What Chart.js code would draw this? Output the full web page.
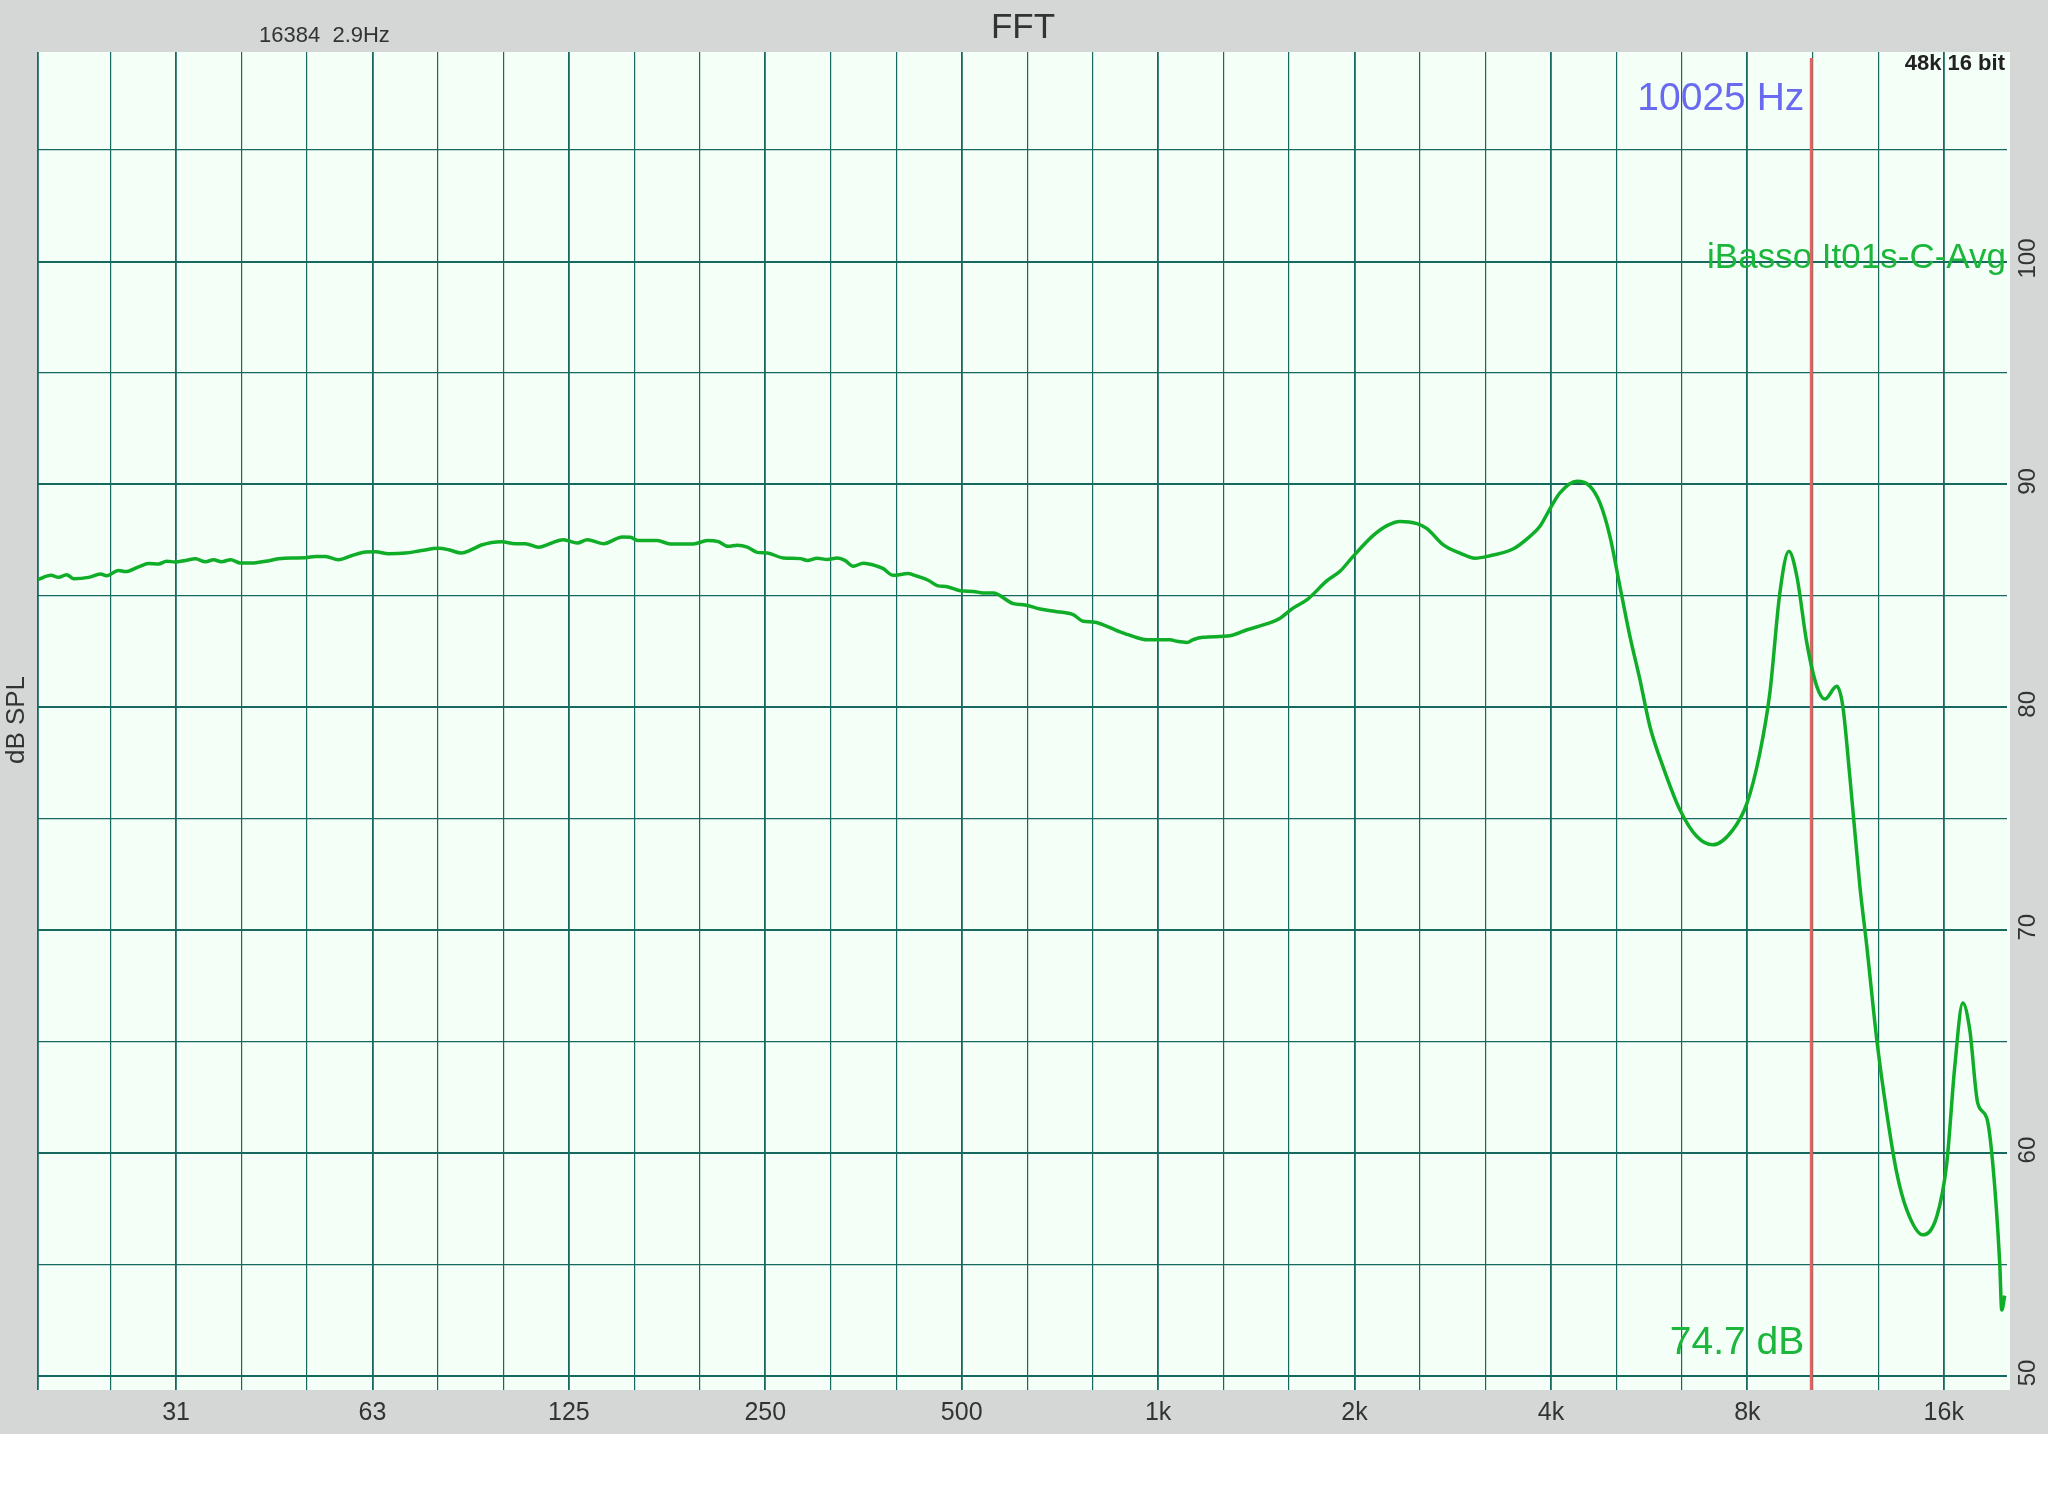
<!DOCTYPE html>
<html>
<head>
<meta charset="utf-8">
<title>FFT</title>
<script src="https://cdn.jsdelivr.net/npm/chart.js@4.4.1/dist/chart.umd.min.js"></script>
<style>
  html, body { margin: 0; padding: 0; background: #ffffff; }
  #wrap { width: 2048px; height: 1496px; }
</style>
</head>
<body>
<div id="wrap"><canvas id="fft" width="2048" height="1496"></canvas></div>
<script>
// measured response (Hz, dB SPL)
const freqs = [
  19.2, 20.1, 20.65, 21.24, 21.77, 22.95, 23.94, 24.46, 25.51, 26.15,
  27.38, 28.36, 29.38, 30.22, 31.17, 32.32, 33.47, 34.68, 35.67, 36.69,
  37.88, 39.23, 40.79, 42.85, 44.86, 46.97, 49.34, 51.12, 52.95, 55.44,
  58.04, 60.98, 63.16, 66.13, 70.22, 74.29, 78.89, 81.72, 85.56, 88.63,
  91.81, 98.52, 103.5, 107.2, 112.3, 117.1, 122.6, 128.8, 133.4, 141.2,
  151.0, 155.3, 159.7, 170.8, 178.8, 193.9, 203.8, 211.8, 219.4, 226.5,
  234.6, 243.0, 251.8, 266.4, 282.9, 289.9, 300.3, 311.1, 322.3, 331.5,
  341.0, 353.2, 371.1, 379.1, 392.7, 414.0, 427.4, 444.3, 458.6, 475.1,
  497.4, 520.7, 539.4, 558.8, 599.6, 625.5, 659.5, 700.3, 741.0, 767.6,
  795.1, 874.6, 915.6, 962.0, 1043, 1069, 1108, 1131, 1172, 1289,
  1369, 1469, 1538, 1610, 1692, 1815, 1900, 1990, 2135, 2243,
  2348, 2493, 2583, 2733, 2902, 3059, 3226, 3498, 3715, 3848,
  3980, 4129, 4384, 4590, 4755, 4926, 5102, 5286, 5476, 5672,
  5938, 6305, 6695, 7084, 7601, 7990, 8361, 8661, 8972, 9261,
  9526, 9868, 10222, 10515, 10970, 11205, 11485, 11897, 12195, 12632,
  13086, 13556, 14042, 14858, 15610, 16170, 16633, 17109, 17536, 18038,
  18621, 19019, 19494, 19632, 19842
];
const spl = [
  85.73, 85.92, 85.83, 85.95, 85.77, 85.83, 85.98, 85.90, 86.14, 86.09,
  86.30, 86.45, 86.43, 86.55, 86.52, 86.59, 86.66, 86.53, 86.62, 86.53,
  86.62, 86.47, 86.47, 86.55, 86.66, 86.70, 86.71, 86.77, 86.77, 86.62,
  86.80, 86.97, 86.98, 86.89, 86.92, 87.03, 87.13, 87.07, 86.92, 87.07,
  87.28, 87.43, 87.34, 87.34, 87.18, 87.35, 87.52, 87.37, 87.52, 87.34,
  87.64, 87.63, 87.48, 87.48, 87.33, 87.33, 87.48, 87.43, 87.22, 87.27,
  87.19, 86.95, 86.92, 86.70, 86.67, 86.59, 86.69, 86.63, 86.70, 86.58,
  86.33, 86.46, 86.33, 86.22, 85.92, 86.00, 85.88, 85.70, 85.46, 85.41,
  85.23, 85.20, 85.13, 85.13, 84.65, 84.59, 84.41, 84.29, 84.16, 83.86,
  83.83, 83.38, 83.18, 83.03, 83.03, 82.96, 82.91, 83.03, 83.14, 83.21,
  83.48, 83.75, 84.00, 84.45, 84.83, 85.68, 86.10, 86.77, 87.70, 88.15,
  88.34, 88.24, 88.02, 87.30, 86.92, 86.69, 86.80, 87.10, 87.67, 88.12,
  88.87, 89.62, 90.14, 89.92, 89.17, 87.67, 85.43, 83.18, 81.24, 79.14,
  77.35, 75.40, 74.20, 73.83, 74.50, 75.70, 77.95, 80.64, 85.13, 87.00,
  85.88, 82.89, 80.94, 80.37, 80.94, 80.04, 76.90, 72.00, 69.27, 65.08,
  61.79, 59.10, 57.45, 56.33, 57.15, 59.54, 63.88, 66.73, 65.53, 62.24,
  61.57, 59.54, 55.05, 52.96, 53.60
];

// 1/3-octave grid and octave labels
const gridFreqs = [
  24.8, 31.25, 39.37, 49.61, 62.5, 78.75, 99.21, 125, 157.5, 198.4,
  250, 315, 396.9, 500, 630, 793.7, 1000, 1260, 1587, 2000,
  2520, 3175, 4000, 5040, 6350, 8000, 10079, 12699, 16000
];
const octaveFreqs = [31.25, 62.5, 125, 250, 500, 1000, 2000, 4000, 8000, 16000];
const octaveLabels = ['31', '63', '125', '250', '500', '1k', '2k', '4k', '8k', '16k'];
const dbTicks = [50, 55, 60, 65, 70, 75, 80, 85, 90, 95, 100, 105];
const dbLabels = [50, 60, 70, 80, 90, 100];

const cursorFreq = 10025;
const FONT = "'Liberation Sans', Arial, Helvetica, sans-serif";
const gridColor = '#17685e';
const curveColor = '#10ad28';

const rta = {
    id: 'rta',
    beforeDraw(chart) {
        const { ctx, chartArea: a, width } = chart;
        ctx.save();
        ctx.fillStyle = '#d5d7d7';
        ctx.fillRect(0, 0, width, 1434);
        ctx.fillStyle = '#f4fff8';
        ctx.fillRect(a.left, a.top, a.right - a.left + 3, a.bottom - a.top);

        ctx.fillStyle = '#333333';
        ctx.textAlign = 'center';
        ctx.textBaseline = 'middle';
        ctx.font = '35px ' + FONT;
        ctx.fillText('FFT', 1023, 28);
        ctx.textAlign = 'left';
        ctx.font = '22px ' + FONT;
        ctx.fillText('16384  2.9Hz', 259, 36);

        ctx.save();
        ctx.translate(17, 720);
        ctx.rotate(-Math.PI / 2);
        ctx.textAlign = 'center';
        ctx.font = '26px ' + FONT;
        ctx.fillText('dB SPL', 0, 0);
        ctx.restore();
        ctx.restore();
    },
    beforeDatasetsDraw(chart) {
        const { ctx, chartArea: a } = chart;
        const cx = chart.scales.x.getPixelForValue(cursorFreq);
        ctx.save();
        ctx.textBaseline = 'middle';
        ctx.textAlign = 'right';
        ctx.font = 'bold 22px ' + FONT;
        ctx.fillStyle = '#222222';
        ctx.fillText('48k 16 bit', 2005, 64);

        ctx.font = '39px ' + FONT;
        ctx.fillStyle = '#6a6af0';
        ctx.fillText(cursorFreq + ' Hz', cx - 7, 99);
        ctx.fillStyle = '#1cb63c';
        ctx.fillText('74.7 dB', cx - 7, 1343);
        ctx.font = '35px ' + FONT;
        ctx.fillText('iBasso It01s-C-Avg', 2006, chart.scales.y.getPixelForValue(100) - 3);

        ctx.strokeStyle = '#e06464';
        ctx.lineWidth = 3;
        ctx.beginPath();
        ctx.moveTo(cx, a.top + 6);
        ctx.lineTo(cx, a.bottom);
        ctx.stroke();
        ctx.restore();
    },
    afterDraw(chart) {
        const { ctx } = chart;
        const y = chart.scales.y;
        ctx.save();
        ctx.fillStyle = '#333333';
        ctx.font = '24px ' + FONT;
        ctx.textAlign = 'center';
        ctx.textBaseline = 'middle';
        dbLabels.forEach(v => {
            ctx.save();
            ctx.translate(2028, y.getPixelForValue(v) - 3);
            ctx.rotate(-Math.PI / 2);
            ctx.fillText(String(v), 0, 0);
            ctx.restore();
        });
        ctx.restore();
    }
};

new Chart(document.getElementById('fft'), {
    type: 'line',
    data: {
        datasets: [{
            label: 'iBasso It01s-C-Avg',
            data: freqs.map((f, i) => ({ x: f, y: spl[i] })),
            borderColor: curveColor,
            borderWidth: 3.5,
            pointRadius: 0,
            cubicInterpolationMode: 'monotone',
            fill: false
        }]
    },
    options: {
        responsive: false,
        animation: false,
        devicePixelRatio: 1,
        layout: { padding: { left: 38, top: 52, right: 0, bottom: 62 } },
        plugins: {
            legend: { display: false },
            tooltip: { enabled: false }
        },
        scales: {
            x: {
                type: 'logarithmic',
                position: 'bottom',
                min: 19.2,
                max: 20000,
                afterBuildTicks: s => { s.ticks = [19.2, ...gridFreqs].map(v => ({ value: v })); },
                afterFit: s => { s.height = 44; },
                border: { display: false },
                grid: {
                    color: gridColor,
                    drawTicks: false,
                    lineWidth: c => (c.tick && (octaveFreqs.includes(c.tick.value) || c.tick.value === 19.2)) ? 1.8 : 1.2
                },
                ticks: {
                    autoSkip: false,
                    maxRotation: 0,
                    minRotation: 0,
                    padding: 8,
                    color: '#333333',
                    font: { family: FONT, size: 25 },
                    callback: v => {
                        const i = octaveFreqs.indexOf(v);
                        return i >= 0 ? octaveLabels[i] : '';
                    }
                }
            },
            y: {
                type: 'linear',
                position: 'right',
                min: 49.37,
                max: 109.4,
                afterBuildTicks: s => { s.ticks = dbTicks.map(v => ({ value: v })); },
                afterFit: s => { s.width = 41; },
                border: { display: false },
                grid: {
                    color: gridColor,
                    drawTicks: false,
                    lineWidth: c => (c.tick && c.tick.value % 10 === 0) ? 2 : 1.2
                },
                ticks: { display: false }
            }
        }
    },
    plugins: [rta]
});
</script>
</body>
</html>
